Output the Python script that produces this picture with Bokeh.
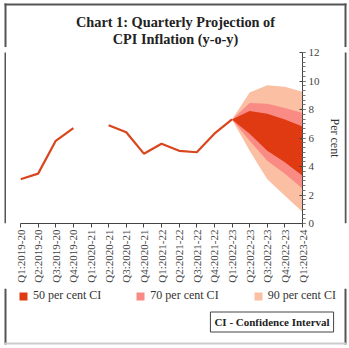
import math
from bokeh.plotting import figure
from bokeh.layouts import column, row
from bokeh.models import Range1d, FixedTicker, Label, Legend, LegendItem, BoxAnnotation
from bokeh.embed import file_html
from bokeh.resources import INLINE

# ---------------- data ----------------
quarters = ["Q1:2019-20", "Q2:2019-20", "Q3:2019-20", "Q4:2019-20",
            "Q1:2020-21", "Q2:2020-21", "Q3:2020-21", "Q4:2020-21",
            "Q1:2021-22", "Q2:2021-22", "Q3:2021-22", "Q4:2021-22",
            "Q1:2022-23", "Q2:2022-23", "Q3:2022-23", "Q4:2022-23",
            "Q1:2023-24"]
cpi_actual = [3.1, 3.5, 5.8, 6.7, float("nan"), 6.9, 6.4, 4.9,
              5.6, 5.1, 5.0, 6.3, 7.3]
fan_quarters = ["Q1:2022-23", "Q2:2022-23", "Q3:2022-23", "Q4:2022-23", "Q1:2023-24"]
ci50_hi = [7.3, 7.9, 7.7, 7.3, 6.8]
ci50_lo = [7.3, 6.3, 5.1, 4.3, 3.35]
ci70_hi = [7.3, 8.45, 8.4, 8.1, 7.75]
ci70_lo = [7.3, 5.8, 4.4, 3.5, 2.45]
ci90_hi = [7.3, 9.2, 9.7, 9.6, 9.25]
ci90_lo = [7.3, 5.1, 3.1, 1.95, 0.8]
y_ticks = [0, 2, 4, 6, 8, 10, 12]
title_lines = ["Chart 1: Quarterly Projection of", "CPI Inflation (y-o-y)"]
legend_labels = ["50 per cent CI", "70 per cent CI", "90 per cent CI"]
note_text = "CI - Confidence Interval"

SERIF = "Liberation Serif"
C50, C70, C90 = "#E03A12", "#F98A84", "#FBC0A4"
LINE = "#D9461E"
FRAME_DARK, FRAME_LIGHT = "#555555", "#cccccc"


def blank(w, h):
    f = figure(width=w, height=h, output_backend="svg", toolbar_location=None,
               x_range=Range1d(0, w), y_range=Range1d(0, h),
               x_axis_location=None, y_axis_location=None,
               min_border=0, outline_line_color=None)
    f.xgrid.visible = False
    f.ygrid.visible = False
    f.background_fill_color = "white"
    f.border_fill_color = "white"
    return f


def bar(f, l, r, b, t, c):
    f.add_layout(BoxAnnotation(left=l, right=r, bottom=b, top=t,
                               left_units="screen", right_units="screen",
                               bottom_units="screen", top_units="screen",
                               fill_color=c, fill_alpha=1, line_color=None))


# ---------------- title strip ----------------
TH = 47
top = blank(349, TH)
for txt, cy in zip(title_lines, [21, 38]):
    top.add_layout(Label(x=175, y=TH - cy, x_units="screen", y_units="screen", text=txt,
                         text_align="center", text_baseline="middle", text_font=SERIF,
                         text_font_style="bold", text_font_size="14.3px",
                         text_color="#222222"))
bar(top, 4, 346, TH - 5, TH - 3, FRAME_DARK)
bar(top, 4, 6, 0, TH - 3, FRAME_DARK)
bar(top, 344, 346, 0, TH - 3, FRAME_DARK)

# ---------------- main chart ----------------
xi = list(range(len(quarters)))
idx = {q: i for i, q in enumerate(quarters)}
fx = [idx[q] for q in fan_quarters]

MH = 241
p = figure(width=338, height=MH, output_backend="svg", toolbar_location=None,
           x_range=Range1d(0, len(quarters) - 1), y_range=Range1d(0, 12),
           min_border_left=14, min_border_right=41, min_border_top=5,
           min_border_bottom=65, outline_line_color=None,
           x_axis_location="below", y_axis_location="right")
p.background_fill_color = "white"
p.border_fill_color = "white"
p.xgrid.visible = False
p.ygrid.visible = False

r90 = p.varea(x=fx, y1=ci90_lo, y2=ci90_hi, fill_color=C90)
r70 = p.varea(x=fx, y1=ci70_lo, y2=ci70_hi, fill_color=C70)
r50 = p.varea(x=fx, y1=ci50_lo, y2=ci50_hi, fill_color=C50)
p.line(x=xi[:len(cpi_actual)], y=cpi_actual, line_color=LINE, line_width=2.2)

xa = p.xaxis[0]
xa.ticker = FixedTicker(ticks=xi)
xa.major_label_overrides = {i: q for i, q in enumerate(quarters)}
xa.major_label_orientation = math.pi / 2
xa.major_label_text_font = SERIF
xa.major_label_text_font_size = "11px"
xa.major_label_text_color = "#444444"
xa.major_tick_in = 0
xa.major_tick_out = 4
xa.minor_tick_line_color = None
xa.axis_line_color = "#444444"
xa.major_tick_line_color = "#444444"
xa.major_label_standoff = 2

ya = p.yaxis[0]
ya.ticker = FixedTicker(ticks=y_ticks, minor_ticks=[i / 3 for i in range(0, 37)])
ya.major_label_text_font = SERIF
ya.major_label_text_font_size = "11px"
ya.major_label_text_color = "#444444"
ya.major_tick_in = 3
ya.major_tick_out = 3
ya.minor_tick_in = 0
ya.minor_tick_out = 3
ya.axis_line_color = "#444444"
ya.major_tick_line_color = "#444444"
ya.minor_tick_line_color = "#777777"
ya.major_label_standoff = 3
ya.axis_label = "Per cent"
ya.axis_label_text_font = SERIF
ya.axis_label_text_font_size = "12px"
ya.axis_label_text_font_style = "normal"
ya.axis_label_text_color = "#333333"
ya.axis_label_standoff = 5

left_strip = blank(6, MH)
bar(left_strip, 4, 6, 0, MH, FRAME_DARK)
right_strip = blank(5, MH)
bar(right_strip, 0, 2, 0, MH, FRAME_DARK)

# ---------------- legend + note strip ----------------
BH = 60
bot = blank(349, BH)
lr90 = bot.varea(x=[0, 0], y1=[0, 0], y2=[0, 0], fill_color=C90)
lr70 = bot.varea(x=[0, 0], y1=[0, 0], y2=[0, 0], fill_color=C70)
lr50 = bot.varea(x=[0, 0], y1=[0, 0], y2=[0, 0], fill_color=C50)
legend = Legend(items=[LegendItem(label=legend_labels[0], renderers=[lr50]),
                       LegendItem(label=legend_labels[1], renderers=[lr70]),
                       LegendItem(label=legend_labels[2], renderers=[lr90])],
                orientation="horizontal", location=(18, 45), padding=0, margin=0,
                spacing=34, glyph_width=10, glyph_height=10, label_standoff=5,
                label_text_font=SERIF, label_text_font_size="12px",
                label_text_color="#333333", border_line_color=None,
                background_fill_alpha=0, label_height=10)
bot.add_layout(legend, "center")
bot.add_layout(Label(x=271.5, y=BH - 321.5 + 288, x_units="screen", y_units="screen",
                     text=note_text, text_align="center",
                     text_baseline="middle", text_font=SERIF, text_font_style="bold",
                     text_font_size="11px", text_color="#222222",
                     border_line_color="#444444", border_line_width=1,
                     background_fill_color="white", padding=4))
bar(bot, 4, 6, 4, BH, FRAME_DARK)
bar(bot, 344, 346, 4, BH, FRAME_DARK)
bar(bot, 4, 346, 4, 6, FRAME_LIGHT)

layout = column(top, row(left_strip, p, right_strip, spacing=0), bot, spacing=0)

open("out.html", "w").write(file_html(layout, INLINE))
